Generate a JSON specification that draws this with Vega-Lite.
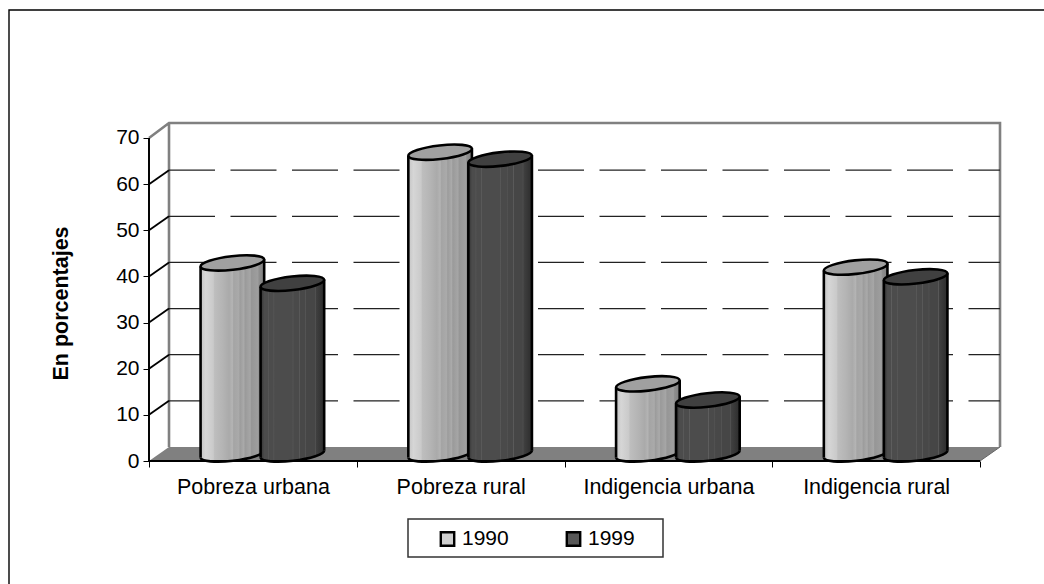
{
"$schema":"https://vega.github.io/schema/vega-lite/v6.json",
"width":851,"height":338,
"autosize":{"type":"none"},
"padding":{"left":149,"top":123,"right":44,"bottom":123},
"background":"white",
"config":{"view":{"stroke":null},"font":"Liberation Sans"},
"datasets":{
"d":[
{"cat":"Pobreza urbana","serie":"1990","v":41.4},
{"cat":"Pobreza urbana","serie":"1999","v":37},
{"cat":"Pobreza rural","serie":"1990","v":65.4},
{"cat":"Pobreza rural","serie":"1999","v":63.9},
{"cat":"Indigencia urbana","serie":"1990","v":15.2},
{"cat":"Indigencia urbana","serie":"1999","v":11.7},
{"cat":"Indigencia rural","serie":"1990","v":40.5},
{"cat":"Indigencia rural","serie":"1999","v":38.4}
],
"g":[{"cat":"Pobreza urbana","v":10},{"cat":"Pobreza urbana","v":20},{"cat":"Pobreza urbana","v":30},{"cat":"Pobreza urbana","v":40},{"cat":"Pobreza urbana","v":50},{"cat":"Pobreza urbana","v":60}],
"o":[{"cat":"Pobreza urbana","v":0}]
},
"data":{"name":"d"},
"encoding":{
"x":{"field":"cat","type":"nominal","scale":{"domain":["Pobreza urbana","Pobreza rural","Indigencia urbana","Indigencia rural"],"paddingInner":0,"paddingOuter":0.0481,"align":0},
"axis":{"title":null,"domain":false,"ticks":true,"tickBand":"extent","tickColor":"#000","tickSize":6,"labelAngle":0,"labelFontSize":21.5,"labelColor":"#000","labelPadding":9,"grid":false}},
"y":{"field":"v","type":"quantitative","scale":{"domain":[0,73.25],"nice":false},
"axis":{"title":"En porcentajes","titleFontSize":21.5,"titleFontWeight":"bold","titleColor":"#000","titlePadding":43,"titleY":180,"values":[0,10,20,30,40,50,60,70],"labelFontSize":21,"labelColor":"#000","tickColor":"#000","tickSize":6,"domain":false,"grid":false,"labelPadding":4}}
},
"layer":[
{"data":{"name":"o"},"encoding":{"x":{"field":"cat","type":"nominal","bandPosition":0}},
 "layer":[
 {"mark":{"type":"point","shape":"M0,0L831,0L851,-14L20,-14Z","size":4,"filled":true,"fill":"#808080","opacity":1}},
 {"mark":{"type":"point","shape":"M-140,130V-451H900","size":4,"filled":false,"stroke":"#000","strokeWidth":1.4,"opacity":1}},
 {"mark":{"type":"point","shape":"M0,-323L20,-338H851V-14M20,-338V-14","size":4,"filled":false,"stroke":"#808080","strokeWidth":2.6,"opacity":1}},
 {"mark":{"type":"point","shape":"M831,0L851,-14","size":4,"filled":false,"stroke":"#666","strokeWidth":1,"opacity":1}},
 {"mark":{"type":"point","shape":"M259,58H514V96H259Z","size":4,"filled":false,"stroke":"#333","strokeWidth":1.5,"opacity":1}}
 ]},
{"data":{"name":"g"},"encoding":{"x":{"field":"cat","type":"nominal","bandPosition":0}},
 "mark":{"type":"point","shape":"M20,-14H851","size":4,"filled":false,"stroke":"#222","strokeWidth":1.2,"strokeDash":[46,15.5],"opacity":1}},
{"transform":[{"filter":"datum.serie==='1990'"}],
 "layer":[
 {"mark":{"type":"point","shape":"M-31.8,3.6A32,6.8,-6.5,0,0,31.8,-3.6L31.8,-6L-31.8,-6Z","size":4,"filled":true,"opacity":1,"stroke":null,"xOffset":-20.5,"yOffset":-7,"fill":{"gradient":"linear","x1":0,"x2":1,"y1":0,"y2":0,"stops":[{"offset":0,"color":"#c4c4c4"},{"offset":0.08,"color":"#d6d6d6"},{"offset":0.2,"color":"#cacaca"},{"offset":0.22,"color":"#bebebe"},{"offset":0.35,"color":"#b4b4b4"},{"offset":0.45,"color":"#aaaaaa"},{"offset":0.5,"color":"#b4b4b4"},{"offset":0.52,"color":"#a4a4a4"},{"offset":0.6,"color":"#aaaaaa"},{"offset":0.62,"color":"#9c9c9c"},{"offset":0.68,"color":"#aaaaaa"},{"offset":0.7,"color":"#9a9a9a"},{"offset":0.78,"color":"#a6a6a6"},{"offset":0.8,"color":"#969696"},{"offset":0.9,"color":"#9e9e9e"},{"offset":0.92,"color":"#8e8e8e"},{"offset":1,"color":"#808080"}]}},"encoding":{"y":{"datum":0}}},
 {"mark":{"type":"bar","width":63.6,"xOffset":-20.5,"yOffset":-2.5,"y2Offset":-12,"fill":{"gradient":"linear","x1":0,"x2":1,"y1":0,"y2":0,"stops":[{"offset":0,"color":"#c4c4c4"},{"offset":0.08,"color":"#d6d6d6"},{"offset":0.2,"color":"#cacaca"},{"offset":0.22,"color":"#bebebe"},{"offset":0.35,"color":"#b4b4b4"},{"offset":0.45,"color":"#aaaaaa"},{"offset":0.5,"color":"#b4b4b4"},{"offset":0.52,"color":"#a4a4a4"},{"offset":0.6,"color":"#aaaaaa"},{"offset":0.62,"color":"#9c9c9c"},{"offset":0.68,"color":"#aaaaaa"},{"offset":0.7,"color":"#9a9a9a"},{"offset":0.78,"color":"#a6a6a6"},{"offset":0.8,"color":"#969696"},{"offset":0.9,"color":"#9e9e9e"},{"offset":0.92,"color":"#8e8e8e"},{"offset":1,"color":"#808080"}]}},"encoding":{"y2":{"datum":0}}},
 {"mark":{"type":"point","shape":"M-31.8,3.6L31.8,-3.6L31.8,6L-31.8,6Z","size":4,"filled":true,"opacity":1,"stroke":null,"xOffset":-20.5,"yOffset":-7,"fill":{"gradient":"linear","x1":0,"x2":1,"y1":0,"y2":0,"stops":[{"offset":0,"color":"#c4c4c4"},{"offset":0.08,"color":"#d6d6d6"},{"offset":0.2,"color":"#cacaca"},{"offset":0.22,"color":"#bebebe"},{"offset":0.35,"color":"#b4b4b4"},{"offset":0.45,"color":"#aaaaaa"},{"offset":0.5,"color":"#b4b4b4"},{"offset":0.52,"color":"#a4a4a4"},{"offset":0.6,"color":"#aaaaaa"},{"offset":0.62,"color":"#9c9c9c"},{"offset":0.68,"color":"#aaaaaa"},{"offset":0.7,"color":"#9a9a9a"},{"offset":0.78,"color":"#a6a6a6"},{"offset":0.8,"color":"#969696"},{"offset":0.9,"color":"#9e9e9e"},{"offset":0.92,"color":"#8e8e8e"},{"offset":1,"color":"#808080"}]}}},
 {"mark":{"type":"point","shape":"M-31.8,3.6A32,6.8,-6.5,0,0,31.8,-3.6","size":4,"filled":false,"opacity":1,"stroke":"#000","strokeWidth":2.6,"xOffset":-20.5,"yOffset":-7},"encoding":{"y":{"datum":0}}},
 {"mark":{"type":"rule","stroke":"#000","strokeWidth":2.6,"xOffset":-52.3,"yOffset":-3.4,"y2Offset":-3.4},"encoding":{"y2":{"datum":0}}},
 {"mark":{"type":"rule","stroke":"#000","strokeWidth":2.6,"xOffset":11.3,"yOffset":-10.6,"y2Offset":-10.6},"encoding":{"y2":{"datum":0}}},
 {"mark":{"type":"point","shape":"M-31.8,3.6A32,6.8,-6.5,1,1,31.8,-3.6A32,6.8,-6.5,1,1,-31.8,3.6Z","size":4,"filled":true,"fill":"#a0a0a0","opacity":1,"stroke":"#000","strokeWidth":2.6,"xOffset":-20.5,"yOffset":-7}}
 ]},
{"transform":[{"filter":"datum.serie==='1999'"}],
 "layer":[
 {"mark":{"type":"point","shape":"M-31.8,3.6A32,6.8,-6.5,0,0,31.8,-3.6L31.8,-6L-31.8,-6Z","size":4,"filled":true,"opacity":1,"stroke":null,"xOffset":39.5,"yOffset":-7,"fill":{"gradient":"linear","x1":0,"x2":1,"y1":0,"y2":0,"stops":[{"offset":0,"color":"#333333"},{"offset":0.06,"color":"#4c4c4c"},{"offset":0.11,"color":"#4c4c4c"},{"offset":0.12,"color":"#5e5e5e"},{"offset":0.13,"color":"#4c4c4c"},{"offset":0.2,"color":"#4c4c4c"},{"offset":0.21,"color":"#5e5e5e"},{"offset":0.22,"color":"#4c4c4c"},{"offset":0.5,"color":"#4c4c4c"},{"offset":0.51,"color":"#5e5e5e"},{"offset":0.52,"color":"#4a4a4a"},{"offset":0.6,"color":"#4a4a4a"},{"offset":0.61,"color":"#5c5c5c"},{"offset":0.62,"color":"#484848"},{"offset":0.7,"color":"#484848"},{"offset":0.71,"color":"#5a5a5a"},{"offset":0.72,"color":"#464646"},{"offset":0.85,"color":"#464646"},{"offset":0.86,"color":"#585858"},{"offset":0.87,"color":"#404040"},{"offset":1,"color":"#2c2c2c"}]}},"encoding":{"y":{"datum":0}}},
 {"mark":{"type":"bar","width":63.6,"xOffset":39.5,"yOffset":-2.5,"y2Offset":-12,"fill":{"gradient":"linear","x1":0,"x2":1,"y1":0,"y2":0,"stops":[{"offset":0,"color":"#333333"},{"offset":0.06,"color":"#4c4c4c"},{"offset":0.11,"color":"#4c4c4c"},{"offset":0.12,"color":"#5e5e5e"},{"offset":0.13,"color":"#4c4c4c"},{"offset":0.2,"color":"#4c4c4c"},{"offset":0.21,"color":"#5e5e5e"},{"offset":0.22,"color":"#4c4c4c"},{"offset":0.5,"color":"#4c4c4c"},{"offset":0.51,"color":"#5e5e5e"},{"offset":0.52,"color":"#4a4a4a"},{"offset":0.6,"color":"#4a4a4a"},{"offset":0.61,"color":"#5c5c5c"},{"offset":0.62,"color":"#484848"},{"offset":0.7,"color":"#484848"},{"offset":0.71,"color":"#5a5a5a"},{"offset":0.72,"color":"#464646"},{"offset":0.85,"color":"#464646"},{"offset":0.86,"color":"#585858"},{"offset":0.87,"color":"#404040"},{"offset":1,"color":"#2c2c2c"}]}},"encoding":{"y2":{"datum":0}}},
 {"mark":{"type":"point","shape":"M-31.8,3.6L31.8,-3.6L31.8,6L-31.8,6Z","size":4,"filled":true,"opacity":1,"stroke":null,"xOffset":39.5,"yOffset":-7,"fill":{"gradient":"linear","x1":0,"x2":1,"y1":0,"y2":0,"stops":[{"offset":0,"color":"#333333"},{"offset":0.06,"color":"#4c4c4c"},{"offset":0.11,"color":"#4c4c4c"},{"offset":0.12,"color":"#5e5e5e"},{"offset":0.13,"color":"#4c4c4c"},{"offset":0.2,"color":"#4c4c4c"},{"offset":0.21,"color":"#5e5e5e"},{"offset":0.22,"color":"#4c4c4c"},{"offset":0.5,"color":"#4c4c4c"},{"offset":0.51,"color":"#5e5e5e"},{"offset":0.52,"color":"#4a4a4a"},{"offset":0.6,"color":"#4a4a4a"},{"offset":0.61,"color":"#5c5c5c"},{"offset":0.62,"color":"#484848"},{"offset":0.7,"color":"#484848"},{"offset":0.71,"color":"#5a5a5a"},{"offset":0.72,"color":"#464646"},{"offset":0.85,"color":"#464646"},{"offset":0.86,"color":"#585858"},{"offset":0.87,"color":"#404040"},{"offset":1,"color":"#2c2c2c"}]}}},
 {"mark":{"type":"point","shape":"M-31.8,3.6A32,6.8,-6.5,0,0,31.8,-3.6","size":4,"filled":false,"opacity":1,"stroke":"#000","strokeWidth":2.6,"xOffset":39.5,"yOffset":-7},"encoding":{"y":{"datum":0}}},
 {"mark":{"type":"rule","stroke":"#000","strokeWidth":2.6,"xOffset":7.7,"yOffset":-3.4,"y2Offset":-3.4},"encoding":{"y2":{"datum":0}}},
 {"mark":{"type":"rule","stroke":"#000","strokeWidth":2.6,"xOffset":71.3,"yOffset":-10.6,"y2Offset":-10.6},"encoding":{"y2":{"datum":0}}},
 {"mark":{"type":"point","shape":"M-31.8,3.6A32,6.8,-6.5,1,1,31.8,-3.6A32,6.8,-6.5,1,1,-31.8,3.6Z","size":4,"filled":true,"fill":"#404040","opacity":1,"stroke":"#000","strokeWidth":2.6,"xOffset":39.5,"yOffset":-7}}
 ]},
{"data":{"name":"g"},"encoding":{"x":{"field":"cat","type":"nominal","bandPosition":0}},
 "mark":{"type":"point","shape":"M0,0L20,-14","size":4,"filled":false,"stroke":"#000","strokeWidth":1.8,"opacity":1}},
{"data":{"name":"o"},"encoding":{"x":{"field":"cat","type":"nominal","bandPosition":0}},
 "mark":{"type":"point","shape":"M0,-323V0H831","size":4,"filled":false,"stroke":"#000","strokeWidth":1.8,"opacity":1}},
{"data":{"name":"o"},"mark":{"type":"rule","stroke":"#000","strokeWidth":1.6},
 "encoding":{"x":{"field":"cat","type":"nominal","bandPosition":0},"y":{"datum":70},"y2":{"datum":0}}},
{"mark":{"type":"point","filled":true,"size":0,"opacity":1},
 "encoding":{"color":{"field":"serie","type":"nominal","scale":{"domain":["1990","1999"],"range":["#cfcfcf","#585858"]},
  "legend":{"title":null,"orient":"none","legendX":288,"legendY":405,"direction":"horizontal","columns":2,"columnPadding":52,"symbolType":"square","symbolSize":180,"symbolStrokeColor":"#000","symbolStrokeWidth":2.4,"symbolOpacity":1,"labelFontSize":21,"labelColor":"#000","labelOffset":4,"padding":0}}}}
]
}
